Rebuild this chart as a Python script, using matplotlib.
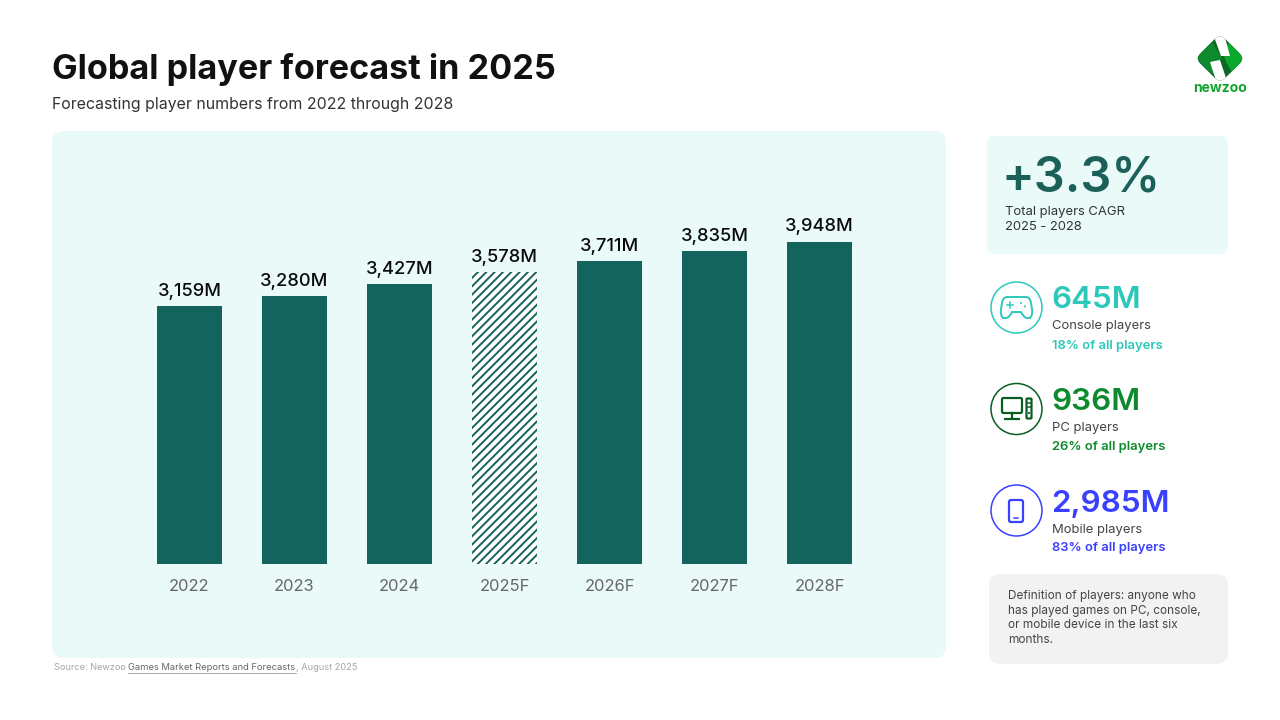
import matplotlib
matplotlib.use("Agg")
import matplotlib.pyplot as plt
from matplotlib.patches import FancyBboxPatch, Circle, Polygon, PathPatch
from matplotlib.path import Path
from matplotlib.transforms import Affine2D

plt.rcParams['font.family'] = ['Inter', 'DejaVu Sans']
plt.rcParams['hatch.linewidth'] = 1.4

years = ["2022", "2023", "2024", "2025F", "2026F", "2027F", "2028F"]
players = [3159, 3280, 3427, 3578, 3711, 3835, 3948]
hatched_year = "2025F"

stat_values = ["645M", "936M", "2,985M"]
stat_names = ["Console players", "PC players", "Mobile players"]
stat_shares = ["18% of all players", "26% of all players", "83% of all players"]
stat_colors = ["#2CC9BB", "#0E8A2E", "#3A40FF"]
ring_colors = ["#2CC9BB", "#0B5E22", "#3A40FF"]

teal = "#14635C"
panel = "#E9FAF9"

fig = plt.figure(figsize=(12.8, 7.2), dpi=100, facecolor="white")

# overlay in pixel coords, everything but the bars lives here
bg = fig.add_axes([0, 0, 1, 1])
bg.set_xlim(0, 1280)
bg.set_ylim(720, 0)
bg.axis("off")


def rounded(x, y, w, h, r, color):
    bg.add_patch(FancyBboxPatch((x + r, y + r), w - 2 * r, h - 2 * r,
                                boxstyle="round,pad=%d,rounding_size=%d" % (r, r),
                                fc=color, ec="none"))


rounded(52, 131, 894, 527, 12, panel)
rounded(987, 136, 241, 118, 8, panel)
rounded(989, 574, 239, 90, 12, "#F2F2F2")

bg.text(52, 69, "Global player forecast in 2025", fontsize=24.6, fontweight="bold",
        color="#111111", va="center", ha="left")
bg.text(52, 104, "Forecasting player numbers from 2022 through 2028", fontsize=11.45,
        color="#333333", va="center", ha="left")

# bars
ax = fig.add_axes([137 / 1280, (720 - 564) / 720, 735 / 1280, 400 / 720])
ax.patch.set_alpha(0)
ax.set_xlim(-0.5, 6.5)
ax.set_ylim(0, 4899)
for s in ax.spines.values():
    s.set_visible(False)
ax.set_yticks([])
ax.tick_params(axis="x", length=0, pad=10.5, labelsize=11.9, labelcolor="#666666")

for i, (yr, val) in enumerate(zip(years, players)):
    if yr == hatched_year:
        ax.bar(i, val, width=0.625, facecolor="white", edgecolor=teal, hatch="////", linewidth=0)
    else:
        ax.bar(i, val, width=0.625, color=teal)
    ax.annotate(f"{val:,}M", (i, val), xytext=(0, 4.5), textcoords="offset points",
                ha="center", va="bottom", fontsize=13.2, fontweight="medium", color="#0A0A0A")
ax.set_xticks(range(len(years)))
ax.set_xticklabels(years)

# source line
bg.text(54, 667.5, "Source: Newzoo ", fontsize=6.6, color="#A6A6A6", va="center")
bg.text(128, 667.5, "Games Market Reports and Forecasts", fontsize=6.75, color="#666666", va="center")
bg.plot([128, 296], [672.5, 672.5], color="#999999", lw=0.6)
bg.text(296, 667.5, ", August 2025", fontsize=6.6, color="#A6A6A6", va="center")

# CAGR box
bg.text(1002, 179, "+3.3%", fontsize=35, fontweight="semibold", color="#1B6159", va="center")
bg.text(1005, 211.5, "Total players CAGR", fontsize=9.4, color="#333333", va="center")
bg.text(1005, 227.5, "2025 - 2028", fontsize=9.4, color="#333333", va="center")

# stat blocks
for i, (val, name, share, col, ring) in enumerate(zip(stat_values, stat_names, stat_shares,
                                                      stat_colors, ring_colors)):
    y = 307.5 + i * 101.5
    bg.add_patch(Circle((1016.5, y), 25.5, fc="white", ec=ring, lw=1.1))
    bg.text(1051, y - 7, val, fontsize=22.6, fontweight="semibold", color=col, va="center")
    bg.text(1052, y + 19, name, fontsize=9.4, color="#444444", va="center")
    bg.text(1052, y + 38, share, fontsize=9.4, fontweight="semibold", color=col, va="center")

# console icon
c = stat_colors[0]
pad_path = Path([(1007, 297), (1026, 297), (1030, 297), (1031, 303), (1032, 309), (1033, 315),
                 (1030, 318), (1027, 318), (1024, 318), (1021, 312), (1012, 312), (1009, 318),
                 (1006, 318), (1003, 318), (1000, 315), (1001, 309), (1002, 303), (1003, 297),
                 (1007, 297)],
                [Path.MOVETO, Path.LINETO, Path.CURVE3, Path.CURVE3, Path.LINETO, Path.CURVE3,
                 Path.CURVE3, Path.LINETO, Path.CURVE3, Path.CURVE3, Path.LINETO, Path.CURVE3,
                 Path.CURVE3, Path.LINETO, Path.CURVE3, Path.CURVE3, Path.LINETO, Path.CURVE3,
                 Path.CURVE3])
bg.add_patch(PathPatch(pad_path, fc="none", ec=c, lw=1.4))
bg.plot([1007, 1013], [304.5, 304.5], color=c, lw=1.1)
bg.plot([1010, 1010], [301.5, 307.5], color=c, lw=1.1)
bg.add_patch(Circle((1021, 303), 1, fc=c, ec="none"))
bg.add_patch(Circle((1025, 306.5), 1, fc=c, ec="none"))

# pc icon
c = "#0B5E22"
bg.add_patch(FancyBboxPatch((1003, 399), 18, 13, boxstyle="round,pad=1,rounding_size=1.5",
                            fc="none", ec=c, lw=1.6))
bg.plot([1012, 1012], [413, 418], color=c, lw=1.6)
bg.plot([1005, 1019], [418.5, 418.5], color=c, lw=1.6)
bg.add_patch(FancyBboxPatch((1027, 399), 4, 19, boxstyle="round,pad=0.5,rounding_size=1",
                            fc="none", ec=c, lw=1.6))
bg.plot([1027.5, 1030.5], [403, 403], color=c, lw=1.1)
bg.plot([1027.5, 1030.5], [407, 407], color=c, lw=1.1)
bg.add_patch(Circle((1029, 413), 1.1, fc=c, ec="none"))

# phone icon
c = stat_colors[2]
bg.add_patch(FancyBboxPatch((1010, 501), 12, 20, boxstyle="round,pad=1,rounding_size=2",
                            fc="none", ec=c, lw=1.6))
bg.plot([1014, 1018], [518, 518], color=c, lw=1.1)

# definition box
defn = ["Definition of players: anyone who", "has played games on PC, console,",
        "or mobile device in the last six", "months."]
for i, line in enumerate(defn):
    bg.text(1008, 596.5 + i * 14.5, line, fontsize=8.5, color="#444444", va="center")

# logo, stripes clipped to the rotated rounded square
rot = Affine2D().rotate_deg_around(1220, 58.5, 45) + bg.transData
logo = FancyBboxPatch((1202.5, 41), 35, 35, boxstyle="round,pad=0,rounding_size=7",
                      fc="#0B6B22", ec="none", transform=rot)
bg.add_patch(logo)
logo_parts = [
    ([(1196, 58), (1212, 42), (1222, 58), (1212, 74)], "#0E8A2E"),
    ([(1222, 50), (1232, 40), (1248, 58), (1232, 72), (1226, 62)], "#0BA82E"),
    ([(1213, 34), (1224, 34), (1230, 56), (1221, 56)], "white"),
    ([(1210, 62), (1220, 60), (1228, 84), (1217, 84)], "white"),
]
for pts, col in logo_parts:
    part = Polygon(pts, fc=col, ec="none")
    bg.add_patch(part)
    part.set_clip_path(logo.get_path(), logo.get_transform())
bg.text(1219.5, 88.5, "newzoo", fontsize=10, fontweight="bold", color="#12A52E", ha="center", va="center")

fig.savefig("out.png", dpi=100)
